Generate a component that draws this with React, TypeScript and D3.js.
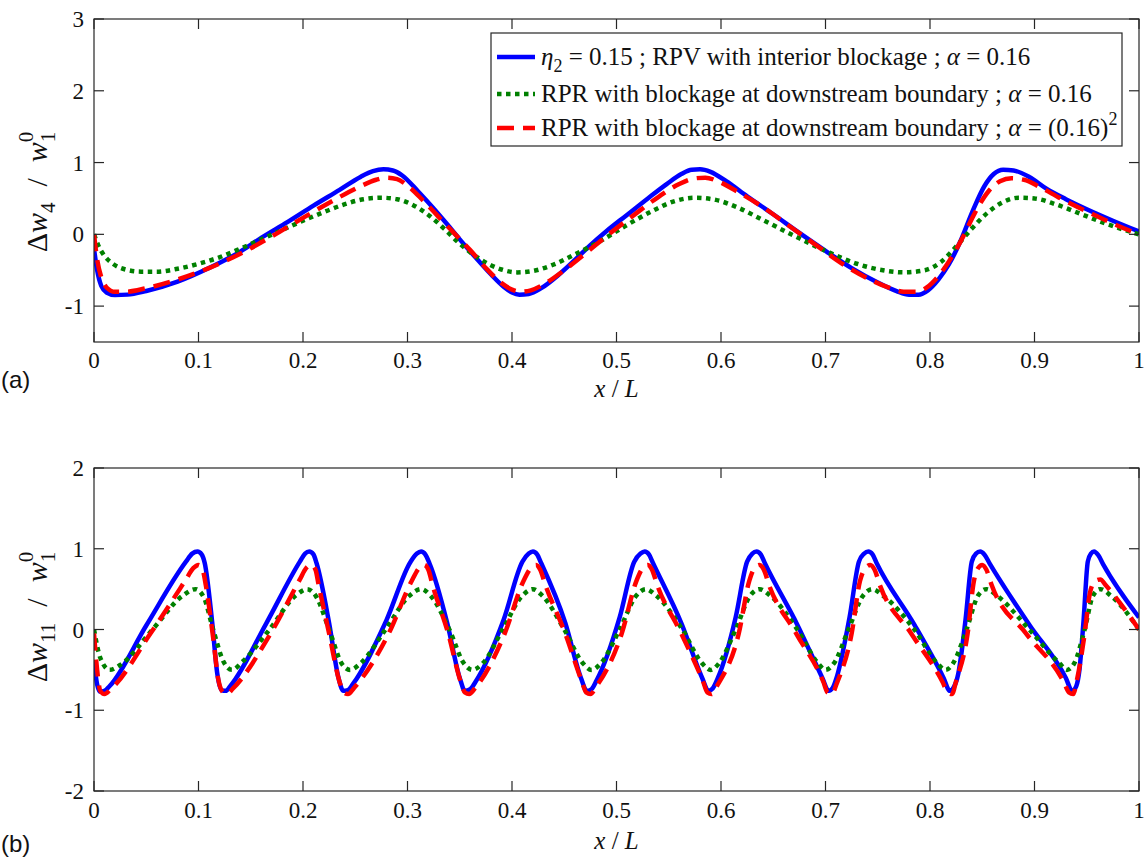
import React from 'react';
import * as d3 from 'd3';

type Pt = [number, number];

const xTicks = [0, 0.1, 0.2, 0.3, 0.4, 0.5, 0.6, 0.7, 0.8, 0.9, 1];
const xTickLabels = ['0', '0.1', '0.2', '0.3', '0.4', '0.5', '0.6', '0.7', '0.8', '0.9', '1'];
const topYTicks = [-1, 0, 1, 2, 3];
const topYTickLabels = ['-1', '0', '1', '2', '3'];
const botYTicks = [-2, -1, 0, 1, 2];
const botYTickLabels = ['-2', '-1', '0', '1', '2'];

const legendLabels = [
  'RPV with interior blockage',
  'RPR with blockage at downstream boundary',
  'RPR with blockage at downstream boundary',
];

// Panel (a): Δw4 / w1^0
const topBlue: Pt[] = [
  [0, -0.2], [0.003, -0.5], [0.007, -0.72], [0.012, -0.81], [0.02, -0.845], [0.032, -0.84], [0.05, -0.79],
  [0.08, -0.66], [0.11, -0.47], [0.14, -0.24], [0.16, -0.05], [0.185, 0.17], [0.21, 0.4], [0.235, 0.62],
  [0.255, 0.8], [0.267, 0.88], [0.277, 0.905], [0.286, 0.89], [0.295, 0.82], [0.31, 0.6], [0.325, 0.36],
  [0.338, 0.14], [0.35, -0.07], [0.365, -0.32], [0.38, -0.56], [0.392, -0.73], [0.4, -0.81], [0.407, -0.84],
  [0.416, -0.83], [0.428, -0.75], [0.445, -0.56], [0.46, -0.36], [0.475, -0.15], [0.49, 0.04], [0.51, 0.27],
  [0.53, 0.5], [0.548, 0.7], [0.562, 0.84], [0.572, 0.9], [0.58, 0.905], [0.59, 0.87], [0.605, 0.74],
  [0.625, 0.53], [0.65, 0.28], [0.675, 0.02], [0.7, -0.23], [0.725, -0.47], [0.75, -0.67], [0.768, -0.79],
  [0.78, -0.84], [0.789, -0.84], [0.798, -0.78], [0.808, -0.63], [0.818, -0.42], [0.829, -0.1], [0.841, 0.33],
  [0.852, 0.67], [0.861, 0.84], [0.87, 0.9], [0.88, 0.89], [0.895, 0.8], [0.911, 0.64], [0.93, 0.49],
  [0.95, 0.35], [0.975, 0.19], [1, 0.04],
];

const topGreen: Pt[] = [
  [0, 0], [0.004, -0.15], [0.01, -0.3], [0.018, -0.41], [0.03, -0.49], [0.045, -0.52], [0.06, -0.52],
  [0.08, -0.48], [0.1, -0.41], [0.12, -0.32], [0.14, -0.2], [0.16, -0.07], [0.18, 0.06], [0.2, 0.19],
  [0.22, 0.31], [0.24, 0.42], [0.258, 0.49], [0.275, 0.51], [0.29, 0.49], [0.305, 0.41], [0.32, 0.27],
  [0.335, 0.08], [0.35, -0.13], [0.37, -0.35], [0.39, -0.49], [0.405, -0.53], [0.42, -0.51], [0.44, -0.42],
  [0.46, -0.28], [0.485, -0.09], [0.51, 0.13], [0.535, 0.33], [0.555, 0.46], [0.575, 0.51], [0.595, 0.48],
  [0.615, 0.38], [0.64, 0.2], [0.67, -0.02], [0.7, -0.23], [0.73, -0.41], [0.755, -0.5], [0.775, -0.53],
  [0.795, -0.5], [0.81, -0.39], [0.825, -0.17], [0.84, 0.08], [0.855, 0.3], [0.87, 0.45], [0.885, 0.51],
  [0.9, 0.5], [0.92, 0.42], [0.945, 0.28], [0.97, 0.14], [1, 0],
];

const topRed: Pt[] = [
  [0, 0], [0.003, -0.35], [0.007, -0.6], [0.012, -0.74], [0.02, -0.8], [0.03, -0.8], [0.05, -0.75],
  [0.08, -0.63], [0.11, -0.47], [0.14, -0.27], [0.17, -0.03], [0.2, 0.23], [0.23, 0.48], [0.255, 0.67],
  [0.27, 0.76], [0.28, 0.79], [0.29, 0.77], [0.3, 0.68], [0.315, 0.47], [0.33, 0.24], [0.345, 0.01],
  [0.36, -0.22], [0.375, -0.47], [0.39, -0.68], [0.4, -0.77], [0.408, -0.8], [0.418, -0.78], [0.43, -0.7],
  [0.45, -0.5], [0.47, -0.27], [0.49, -0.03], [0.515, 0.25], [0.54, 0.52], [0.56, 0.7], [0.575, 0.78],
  [0.585, 0.79], [0.597, 0.74], [0.615, 0.6], [0.64, 0.38], [0.665, 0.12], [0.69, -0.14], [0.715, -0.4],
  [0.74, -0.61], [0.76, -0.74], [0.775, -0.8], [0.787, -0.8], [0.797, -0.74], [0.807, -0.6], [0.818, -0.38],
  [0.83, -0.08], [0.843, 0.3], [0.856, 0.6], [0.867, 0.74], [0.878, 0.78], [0.89, 0.76], [0.905, 0.66],
  [0.925, 0.5], [0.95, 0.32], [0.975, 0.15], [1, 0],
];

// Panel (b): Δw11 / w1^0
const botBlue: Pt[] = [
  [0, -0.4], [0.003, -0.68], [0.006, -0.77], [0.01, -0.76], [0.015, -0.7], [0.05, 0.05], [0.088, 0.84],
  [0.094, 0.94], [0.099, 0.965], [0.103, 0.93], [0.106, 0.82], [0.113, 0.1], [0.118, -0.55], [0.122, -0.75],
  [0.126, -0.76], [0.131, -0.69], [0.165, 0.08], [0.197, 0.84], [0.202, 0.94], [0.206, 0.965], [0.21, 0.93],
  [0.213, 0.82], [0.225, 0.08], [0.234, -0.6], [0.2385, -0.76], [0.243, -0.75], [0.248, -0.67], [0.28, 0.12],
  [0.303, 0.84], [0.309, 0.94], [0.313, 0.965], [0.317, 0.93], [0.321, 0.82], [0.338, 0.08], [0.35, -0.6],
  [0.355, -0.76], [0.36, -0.74], [0.365, -0.65], [0.392, 0.12], [0.41, 0.84], [0.416, 0.94], [0.42, 0.965],
  [0.424, 0.93], [0.428, 0.82], [0.451, 0.08], [0.466, -0.6], [0.4715, -0.76], [0.476, -0.74], [0.481, -0.63],
  [0.503, 0.15], [0.517, 0.84], [0.523, 0.94], [0.527, 0.965], [0.531, 0.93], [0.535, 0.82], [0.562, 0.08],
  [0.582, -0.6], [0.588, -0.76], [0.592, -0.73], [0.597, -0.6], [0.614, 0.15], [0.625, 0.84], [0.63, 0.94],
  [0.634, 0.965], [0.638, 0.93], [0.642, 0.82], [0.673, 0.06], [0.697, -0.6], [0.703, -0.76], [0.707, -0.72],
  [0.711, -0.58], [0.723, 0.15], [0.732, 0.84], [0.737, 0.94], [0.741, 0.965], [0.745, 0.93], [0.749, 0.82],
  [0.785, 0.06], [0.813, -0.6], [0.819, -0.76], [0.823, -0.71], [0.827, -0.55], [0.834, 0.12], [0.84, 0.84],
  [0.844, 0.94], [0.848, 0.965], [0.852, 0.93], [0.857, 0.82], [0.895, 0.06], [0.93, -0.6], [0.936, -0.76],
  [0.94, -0.7], [0.943, -0.5], [0.947, 0.12], [0.951, 0.84], [0.954, 0.94], [0.957, 0.965], [0.961, 0.92],
  [0.966, 0.8], [1, 0.15],
];

const botGreen: Pt[] = [
  [0, 0], [0.006, -0.35], [0.015, -0.5], [0.025, -0.44], [0.056, 0], [0.085, 0.42], [0.097, 0.5],
  [0.105, 0.4], [0.114, 0], [0.124, -0.4], [0.132, -0.5], [0.142, -0.4], [0.168, 0], [0.193, 0.42],
  [0.204, 0.5], [0.212, 0.42], [0.225, 0], [0.237, -0.42], [0.245, -0.5], [0.255, -0.42], [0.279, 0],
  [0.302, 0.42], [0.313, 0.5], [0.322, 0.42], [0.34, 0], [0.354, -0.42], [0.362, -0.5], [0.372, -0.42],
  [0.391, 0], [0.41, 0.42], [0.42, 0.5], [0.429, 0.42], [0.45, 0], [0.468, -0.42], [0.476, -0.5],
  [0.485, -0.42], [0.503, 0], [0.519, 0.42], [0.528, 0.5], [0.538, 0.42], [0.563, 0], [0.582, -0.42],
  [0.59, -0.5], [0.598, -0.42], [0.614, 0], [0.628, 0.42], [0.637, 0.5], [0.647, 0.42], [0.673, 0],
  [0.693, -0.42], [0.7, -0.5], [0.708, -0.42], [0.722, 0], [0.736, 0.42], [0.745, 0.5], [0.755, 0.42],
  [0.785, 0], [0.807, -0.42], [0.815, -0.5], [0.822, -0.42], [0.835, 0], [0.846, 0.42], [0.854, 0.5],
  [0.864, 0.42], [0.895, 0], [0.924, -0.42], [0.931, -0.5], [0.938, -0.42], [0.948, 0], [0.956, 0.42],
  [0.963, 0.5], [0.973, 0.42], [1, 0],
];

const botRed: Pt[] = [
  [0, -0.05], [0.003, -0.5], [0.006, -0.76], [0.01, -0.8], [0.016, -0.74], [0.054, -0.05], [0.088, 0.62],
  [0.095, 0.76], [0.1, 0.8], [0.104, 0.74], [0.107, 0.55], [0.114, -0.1], [0.119, -0.62], [0.123, -0.77],
  [0.127, -0.8], [0.133, -0.73], [0.169, -0.05], [0.197, 0.62], [0.203, 0.76], [0.208, 0.8], [0.212, 0.74],
  [0.215, 0.55], [0.225, -0.05], [0.235, -0.65], [0.239, -0.78], [0.243, -0.8], [0.249, -0.72], [0.282, -0.05],
  [0.304, 0.6], [0.311, 0.76], [0.316, 0.8], [0.32, 0.74], [0.324, 0.55], [0.339, -0.05], [0.351, -0.65],
  [0.355, -0.78], [0.359, -0.8], [0.365, -0.72], [0.393, -0.05], [0.411, 0.6], [0.418, 0.76], [0.423, 0.8],
  [0.427, 0.74], [0.432, 0.55], [0.451, -0.05], [0.467, -0.65], [0.471, -0.78], [0.475, -0.8], [0.481, -0.7],
  [0.505, -0.05], [0.519, 0.6], [0.525, 0.76], [0.53, 0.8], [0.534, 0.74], [0.539, 0.55], [0.562, -0.05],
  [0.583, -0.65], [0.587, -0.78], [0.591, -0.8], [0.597, -0.68], [0.617, -0.05], [0.627, 0.6], [0.632, 0.76],
  [0.637, 0.8], [0.641, 0.74], [0.646, 0.55], [0.672, -0.05], [0.698, -0.65], [0.702, -0.78], [0.706, -0.8],
  [0.711, -0.66], [0.725, -0.05], [0.733, 0.6], [0.738, 0.76], [0.743, 0.8], [0.747, 0.74], [0.752, 0.55],
  [0.782, -0.05], [0.812, -0.65], [0.817, -0.78], [0.821, -0.8], [0.825, -0.64], [0.836, -0.05], [0.842, 0.6],
  [0.846, 0.76], [0.85, 0.8], [0.854, 0.74], [0.859, 0.55], [0.892, -0.05], [0.928, -0.65], [0.933, -0.78],
  [0.937, -0.8], [0.941, -0.6], [0.948, -0.05], [0.953, 0.45], [0.958, 0.6], [0.963, 0.62], [0.968, 0.55],
  [1, 0],
];

const W = 1145;
const H = 859;
const X0 = 94;
const X1 = 1139;
const SERIF = "'Liberation Serif', 'Times New Roman', serif";
const SANS = "'Liberation Sans', Arial, sans-serif";
const AX = '#262626';
const BLUE = '#0000ff';
const GREEN = '#008000';
const RED = '#ff0000';
const LW = 4.5;
const GREEN_DASH = '4.5,4.5';
const RED_DASH = '17,9';
const TICK_FS = 23;

const x = d3.scaleLinear().domain([0, 1]).range([X0, X1]);

type PanelProps = {
  id: string;
  yDomain: [number, number];
  yRange: [number, number];
  yTicks: number[];
  yTickLabels: string[];
  blue: Pt[];
  green: Pt[];
  red: Pt[];
  sub: string;
  ylabelY: number;
  xLabelBase: number;
  tickBase: number;
  letter: string;
  letterBase: number;
};

function Panel(p: PanelProps) {
  const y = d3.scaleLinear().domain(p.yDomain).range(p.yRange);
  const line = d3
    .line<Pt>()
    .x((d) => x(d[0]))
    .y((d) => y(d[1]))
    .curve(d3.curveMonotoneX);
  const top = p.yRange[1];
  const bottom = p.yRange[0];
  const TL = 10;
  return (
    <g>
      <defs>
        <clipPath id={p.id}>
          <rect x={X0} y={top} width={X1 - X0} height={bottom - top} />
        </clipPath>
      </defs>
      <g clipPath={`url(#${p.id})`}>
        <path d={line(p.blue) || ''} fill="none" stroke={BLUE} strokeWidth={LW} strokeLinejoin="round" />
        <path d={line(p.green) || ''} fill="none" stroke={GREEN} strokeWidth={LW} strokeDasharray={GREEN_DASH} />
        <path d={line(p.red) || ''} fill="none" stroke={RED} strokeWidth={LW} strokeDasharray={RED_DASH} />
      </g>
      <rect x={X0} y={top} width={X1 - X0} height={bottom - top} fill="none" stroke={AX} strokeWidth={1.2} />
      {xTicks.map((t, i) => (
        <g key={'xt' + i}>
          <line x1={x(t)} x2={x(t)} y1={bottom} y2={bottom - TL} stroke={AX} strokeWidth={1.2} />
          <line x1={x(t)} x2={x(t)} y1={top} y2={top + TL} stroke={AX} strokeWidth={1.2} />
          <text x={x(t)} y={p.tickBase} textAnchor="middle" fontFamily={SERIF} fontSize={TICK_FS} fill="#111">
            {xTickLabels[i]}
          </text>
        </g>
      ))}
      {p.yTicks.map((t, i) => (
        <g key={'yt' + i}>
          <line x1={X0} x2={X0 + TL} y1={y(t)} y2={y(t)} stroke={AX} strokeWidth={1.2} />
          <line x1={X1} x2={X1 - TL} y1={y(t)} y2={y(t)} stroke={AX} strokeWidth={1.2} />
          <text x={84} y={y(t) + 8} textAnchor="end" fontFamily={SERIF} fontSize={TICK_FS} fill="#111">
            {p.yTickLabels[i]}
          </text>
        </g>
      ))}
      <g transform={`translate(47,${p.ylabelY}) rotate(-90)`}>
        <text x={0} y={0} textAnchor="middle" fontFamily={SERIF} fontSize={30} fill="#111">
          <tspan>Δ</tspan>
          <tspan fontStyle="italic">w</tspan>
          <tspan dy={8} fontSize={21}>{p.sub}</tspan>
          <tspan dy={-8} dx={16}>/</tspan>
          <tspan dx={16} fontStyle="italic">w</tspan>
          <tspan dy={8} fontSize={21}>1</tspan>
          <tspan dy={-22} dx={-10.5} fontSize={21}>0</tspan>
        </text>
      </g>
      <text x={(X0 + X1) / 2} y={p.xLabelBase} textAnchor="middle" fontFamily={SERIF} fontSize={25} fill="#111">
        <tspan fontStyle="italic">x</tspan>
        <tspan> / </tspan>
        <tspan fontStyle="italic">L</tspan>
      </text>
      <text x={1} y={p.letterBase} fontFamily={SANS} fontSize={24} fill="#111">
        {p.letter}
      </text>
    </g>
  );
}

function Legend() {
  const bx = 491;
  const by = 33;
  const bw = 631;
  const bh = 113;
  const rows = [57, 94, 128];
  const lx0 = 497;
  const lx1 = 535;
  const tx = 541;
  const fs = 25;
  return (
    <g>
      <rect x={bx} y={by} width={bw} height={bh} fill="#fff" stroke={AX} strokeWidth={1.2} />
      <line x1={lx0} x2={lx1} y1={rows[0]} y2={rows[0]} stroke={BLUE} strokeWidth={LW} />
      <line x1={lx0} x2={lx1} y1={rows[1]} y2={rows[1]} stroke={GREEN} strokeWidth={LW} strokeDasharray={GREEN_DASH} />
      <line x1={lx0} x2={lx1} y1={rows[2]} y2={rows[2]} stroke={RED} strokeWidth={LW} strokeDasharray={RED_DASH} />
      <text x={tx} y={rows[0] + 8} fontFamily={SERIF} fontSize={fs} fill="#111">
        <tspan fontStyle="italic">η</tspan>
        <tspan dy={7} fontSize={18}>2</tspan>
        <tspan dy={-7}>{` = 0.15 ; ${legendLabels[0]} ; `}</tspan>
        <tspan fontStyle="italic">α</tspan>
        <tspan> = 0.16</tspan>
      </text>
      <text x={tx} y={rows[1] + 8} fontFamily={SERIF} fontSize={fs} fill="#111">
        <tspan>{`${legendLabels[1]} ; `}</tspan>
        <tspan fontStyle="italic">α</tspan>
        <tspan> = 0.16</tspan>
      </text>
      <text x={tx} y={rows[2] + 8} fontFamily={SERIF} fontSize={fs} fill="#111">
        <tspan>{`${legendLabels[2]} ; `}</tspan>
        <tspan fontStyle="italic">α</tspan>
        <tspan> = (0.16)</tspan>
        <tspan dy={-11} fontSize={18}>2</tspan>
      </text>
    </g>
  );
}

export default function App() {
  return (
    <svg
      width={W}
      height={H}
      viewBox={`0 0 ${W} ${H}`}
      style={{ position: 'absolute', left: 0, top: 0, display: 'block', background: '#fff' }}
    >
      <rect x={0} y={0} width={W} height={H} fill="#fff" />
      <Panel
        id="clipA"
        yDomain={[-1.5, 3]}
        yRange={[342, 19]}
        yTicks={topYTicks}
        yTickLabels={topYTickLabels}
        blue={topBlue}
        green={topGreen}
        red={topRed}
        sub="4"
        ylabelY={192}
        xLabelBase={397}
        tickBase={368}
        letter="(a)"
        letterBase={388}
      />
      <Legend />
      <Panel
        id="clipB"
        yDomain={[-2, 2]}
        yRange={[791, 468]}
        yTicks={botYTicks}
        yTickLabels={botYTickLabels}
        blue={botBlue}
        green={botGreen}
        red={botRed}
        sub="11"
        ylabelY={617}
        xLabelBase={849}
        tickBase={818}
        letter="(b)"
        letterBase={852}
      />
    </svg>
  );
}
